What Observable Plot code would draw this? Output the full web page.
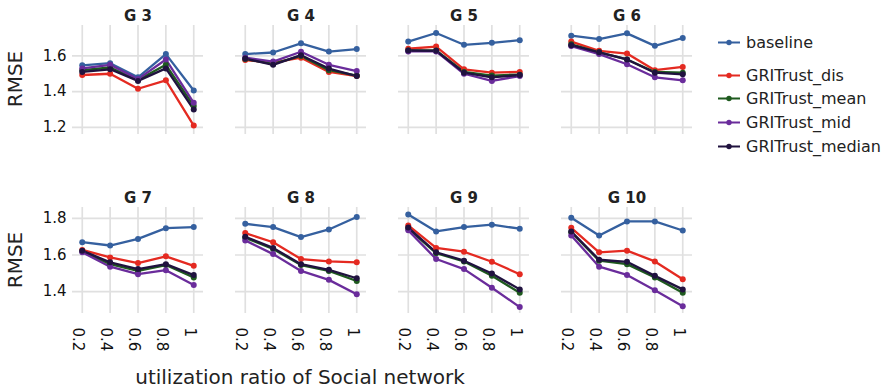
<!DOCTYPE html>
<html>
<head>
<meta charset="utf-8">
<script src="https://cdn.jsdelivr.net/npm/d3@7"></script>
<script src="https://cdn.jsdelivr.net/npm/@observablehq/plot@0.6"></script>
<style>
  html, body { margin: 0; padding: 0; background: #fff; }
  #chart { position: relative; width: 890px; height: 388px; font-family: "DejaVu Sans", Verdana, sans-serif; color: #222; }
  #chart > svg { position: absolute; left: 0; }
  .ylab { position: absolute; font-size: 20px; transform: translate(-50%, -50%) rotate(-90deg); white-space: nowrap; }
  .xlab { position: absolute; font-size: 20px; transform: translate(-50%, -50%); white-space: nowrap; }
  .legend { position: absolute; left: 716px; top: 0; font-size: 16px; }
  .legend .item { position: absolute; left: 0; display: flex; align-items: center; white-space: nowrap; transform: translateY(-50%); }
  .legend svg { margin-right: 4px; }
</style>
</head>
<body>
<div id="chart"></div>
<script>
// Utilization ratio of the social network (x positions and tick labels)
const xTicks = [0.2, 0.4, 0.6, 0.8, 1];

// Facet groups, one row each
const groupsTop = ["G 3", "G 4", "G 5", "G 6"];
const groupsBottom = ["G 7", "G 8", "G 9", "G 10"];
const groups = [...groupsTop, ...groupsBottom];

// Y tick labels per row
const yTicksTop = [1.2, 1.4, 1.6];
const yTicksBottom = [1.4, 1.6, 1.8];

// Methods and their colours
const seriesNames = ["baseline", "GRITrust_dis", "GRITrust_mean", "GRITrust_mid", "GRITrust_median"];
const seriesColors = ["#35609f", "#e42a21", "#1e5a1e", "#6a2c9b", "#20123f"];

// RMSE per group (G 3 … G 10), at each utilization ratio
const baseline = [
  [1.547, 1.559, 1.480, 1.610, 1.406],
  [1.610, 1.619, 1.670, 1.624, 1.638],
  [1.680, 1.728, 1.662, 1.673, 1.688],
  [1.713, 1.694, 1.726, 1.656, 1.700],
  [1.670, 1.652, 1.688, 1.747, 1.753],
  [1.771, 1.753, 1.698, 1.740, 1.808],
  [1.822, 1.729, 1.753, 1.766, 1.744],
  [1.804, 1.707, 1.784, 1.784, 1.734]
];
const gritDis = [
  [1.493, 1.500, 1.416, 1.463, 1.210],
  [1.577, 1.562, 1.590, 1.510, 1.487],
  [1.640, 1.652, 1.525, 1.506, 1.510],
  [1.680, 1.628, 1.613, 1.520, 1.538],
  [1.628, 1.587, 1.556, 1.593, 1.541],
  [1.720, 1.670, 1.578, 1.565, 1.560],
  [1.762, 1.639, 1.618, 1.563, 1.495],
  [1.749, 1.615, 1.624, 1.565, 1.467]
];
const gritMean = [
  [1.520, 1.535, 1.465, 1.550, 1.320],
  [1.582, 1.555, 1.600, 1.520, 1.490],
  [1.630, 1.630, 1.510, 1.490, 1.495],
  [1.665, 1.620, 1.580, 1.510, 1.506],
  [1.620, 1.550, 1.513, 1.545, 1.477],
  [1.694, 1.633, 1.545, 1.513, 1.458],
  [1.745, 1.610, 1.565, 1.486, 1.394],
  [1.725, 1.569, 1.550, 1.477, 1.394]
];
const gritMid = [
  [1.530, 1.550, 1.470, 1.580, 1.337],
  [1.590, 1.568, 1.623, 1.550, 1.515],
  [1.625, 1.625, 1.500, 1.460, 1.487],
  [1.655, 1.610, 1.553, 1.480, 1.463],
  [1.615, 1.536, 1.495, 1.517, 1.436],
  [1.680, 1.605, 1.513, 1.464, 1.385],
  [1.735, 1.578, 1.523, 1.421, 1.315],
  [1.707, 1.536, 1.491, 1.407, 1.320]
];
const gritMedian = [
  [1.510, 1.525, 1.460, 1.530, 1.300],
  [1.585, 1.550, 1.604, 1.529, 1.487],
  [1.630, 1.628, 1.506, 1.480, 1.493],
  [1.660, 1.620, 1.580, 1.506, 1.497],
  [1.624, 1.560, 1.523, 1.550, 1.490],
  [1.700, 1.639, 1.550, 1.519, 1.473],
  [1.750, 1.615, 1.569, 1.499, 1.412],
  [1.729, 1.574, 1.563, 1.486, 1.412]
];

// Long table: one row per (group, method, ratio)
const seriesValues = [baseline, gritDis, gritMean, gritMid, gritMedian];
const rows = [];
seriesNames.forEach((name, si) => {
  groups.forEach((g, gi) => {
    xTicks.forEach((x, xi) => {
      rows.push({group: g, series: name, x, rmse: seriesValues[si][gi][xi]});
    });
  });
});

const gridStyle = {stroke: "#e0e0e0", strokeOpacity: 1, strokeWidth: 1.7};

function facetRow(rowGroups, yDomain, yTicks, showX, height, marginTop, marginBottom) {
  const data = rows.filter(d => rowGroups.includes(d.group));
  const marks = [
    Plot.gridX(xTicks, gridStyle),
    Plot.gridY(yTicks, gridStyle),
    Plot.axisFx({anchor: "top", tickSize: 0, tickPadding: 5, label: null,
                 fontSize: 15, fontWeight: "bold", fill: "#222"}),
    Plot.axisY(yTicks, {tickSize: 0, tickPadding: 6, label: null, fontSize: 15, fill: "#111",
                        tickFormat: d => d.toFixed(1)})
  ];
  if (showX) {
    marks.push(Plot.axisX(xTicks, {tickSize: 0, tickPadding: 14, tickRotate: 90, label: null,
                                   fontSize: 15, fill: "#111", dx: -4, tickFormat: d => String(d)}));
  }
  marks.push(
    Plot.line(data, {fx: "group", x: "x", y: "rmse", z: "series", stroke: "series", strokeWidth: 2.3}),
    Plot.dot(data, {fx: "group", x: "x", y: "rmse", fill: "series", r: 3})
  );
  return Plot.plot({
    width: 710,
    height,
    marginLeft: 70,
    marginRight: 16,
    marginTop,
    marginBottom,
    style: {fontFamily: "DejaVu Sans, Verdana, sans-serif", background: "transparent", overflow: "visible"},
    fx: {domain: rowGroups, paddingInner: 0.195, paddingOuter: 0, label: null},
    x: {domain: [0.13, 1.07], axis: showX ? undefined : null},
    y: {domain: yDomain},
    color: {domain: seriesNames, range: seriesColors},
    marks
  });
}

const chart = document.getElementById("chart");

const topRow = facetRow(groupsTop, [1.16, 1.77], yTicksTop, false, 160, 25, 26);
topRow.style.top = "0px";
chart.appendChild(topRow);

const bottomRow = facetRow(groupsBottom, [1.28, 1.86], yTicksBottom, true, 195, 47, 42);
bottomRow.style.top = "160px";
chart.appendChild(bottomRow);

// Y axis titles, one per row
[79, 260].forEach(cy => {
  const el = document.createElement("div");
  el.className = "ylab";
  el.style.left = "15px";
  el.style.top = cy + "px";
  el.textContent = "RMSE";
  chart.appendChild(el);
});

// X axis title
const xlab = document.createElement("div");
xlab.className = "xlab";
xlab.style.left = "300px";
xlab.style.top = "377px";
xlab.textContent = "utilization ratio of Social network";
chart.appendChild(xlab);

// Legend: line-and-dot swatch per method
const legend = document.createElement("div");
legend.className = "legend";
const legendY = [42, 75, 98, 122, 146];
seriesNames.forEach((name, i) => {
  const item = document.createElement("div");
  item.className = "item";
  item.style.top = legendY[i] + "px";
  const sw = d3.create("svg").attr("width", 26).attr("height", 10);
  sw.append("line").attr("x1", 2).attr("x2", 24).attr("y1", 5).attr("y2", 5)
    .attr("stroke", seriesColors[i]).attr("stroke-width", 2);
  sw.append("circle").attr("cx", 13).attr("cy", 5).attr("r", 2.7).attr("fill", seriesColors[i]);
  item.appendChild(sw.node());
  const label = document.createElement("span");
  label.textContent = name;
  item.appendChild(label);
  legend.appendChild(item);
});
chart.appendChild(legend);
</script>
</body>
</html>
